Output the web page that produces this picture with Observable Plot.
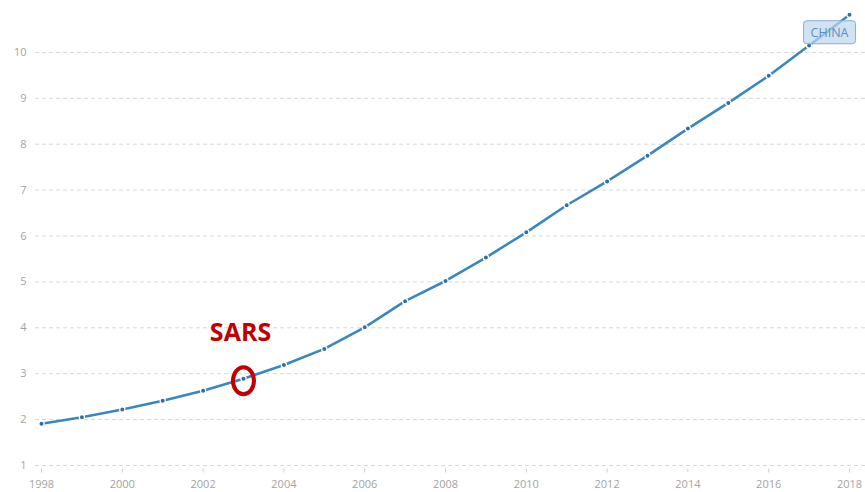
<!DOCTYPE html>
<html>
<head>
<meta charset="utf-8">
<script src="https://cdn.jsdelivr.net/npm/d3@7"></script>
<script src="https://cdn.jsdelivr.net/npm/@observablehq/plot@0.6"></script>
<style>
  html, body { margin: 0; padding: 0; background: #fff; }
  #chart svg { display: block; }
</style>
</head>
<body>
<div id="chart"></div>
<script>
const years = [1998,1999,2000,2001,2002,2003,2004,2005,2006,2007,2008,2009,2010,2011,2012,2013,2014,2015,2016,2017,2018];
const values = [1.91,2.05,2.22,2.41,2.63,2.89,3.19,3.54,4.01,4.58,5.02,5.53,6.08,6.67,7.19,7.75,8.34,8.90,9.49,10.15,10.82];
const seriesName = "CHINA";
const yTicks = [1,2,3,4,5,6,7,8,9,10];
const xTicks = [1998,2000,2002,2004,2006,2008,2010,2012,2014,2016,2018];
const eventYear = 2003;
const eventLabel = "SARS";

const data = years.map((y, i) => ({year: y, value: values[i]}));
const eventPoint = data.filter(d => d.year === eventYear);
const lastPoint = data.slice(-1);

const blue = "#3a87c0";
const gray = "#a3a3a3";

// Ellipse symbol for the SARS ring
const ellipse = {
  draw(ctx, size) {
    const rx = 10.5, ry = 13.5, k = 0.5523;
    ctx.moveTo(rx, 0);
    ctx.bezierCurveTo(rx, ry * k, rx * k, ry, 0, ry);
    ctx.bezierCurveTo(-rx * k, ry, -rx, ry * k, -rx, 0);
    ctx.bezierCurveTo(-rx, -ry * k, -rx * k, -ry, 0, -ry);
    ctx.bezierCurveTo(rx * k, -ry, rx, -ry * k, rx, 0);
    ctx.closePath();
  }
};
// Small vertical tick symbol below the axis baseline
const tickMark = {
  draw(ctx, size) {
    ctx.moveTo(0, 3);
    ctx.lineTo(0, 7);
  }
};

const chart = Plot.plot({
  width: 865,
  height: 492,
  marginTop: 6,
  marginBottom: 27,
  marginLeft: 41,
  marginRight: 16,
  style: {fontFamily: "'Open Sans', sans-serif", background: "#fff"},
  x: {domain: [1998, 2018], axis: null},
  y: {domain: [1, 11], axis: null},
  marks: [
    Plot.ruleY(yTicks, {y: d => d, stroke: "#d8d8d8", strokeDasharray: "4,3", strokeWidth: 1, insetLeft: -6, insetRight: -16}),
    Plot.text(yTicks, {x: () => 1998, y: d => d, text: d => String(d), textAnchor: "end", dx: -15, fill: gray, fontSize: 11}),
    Plot.dot(xTicks, {x: d => d, y: () => 1, symbol: tickMark, r: 4, stroke: "#cfcfcf", strokeWidth: 1, fill: "none"}),
    Plot.text(xTicks, {x: d => d, y: () => 1, text: d => String(d), dy: 19, fill: gray, fontSize: 11}),
    Plot.line(data, {x: "year", y: "value", stroke: blue, strokeWidth: 2.6, curve: "linear"}),
    Plot.dot(data, {x: "year", y: "value", r: 2.6, fill: "#2f6fa5", stroke: "#fff", strokeWidth: 1.2}),
    Plot.dot(eventPoint, {x: "year", y: "value", symbol: ellipse, r: 10, dy: 2, stroke: "#c00000", strokeWidth: 4, fill: "none"}),
    Plot.text(eventPoint, {x: "year", y: "value", text: () => eventLabel, dx: -3, dy: -46, fill: "#c00000", fontSize: 25, fontWeight: "bold", fontFamily: "'Open Sans', sans-serif"}),
    Plot.text(lastPoint, {x: "year", y: "value", text: () => seriesName, dx: -20, dy: 18, fill: "#5c8fc0", fontSize: 12.5, className: "serieslabel"})
  ]
});

document.getElementById("chart").appendChild(chart);

// Draw the rounded label box behind the series label
const t = chart.querySelector(".serieslabel text");
if (t) {
  const bb = t.getBBox();
  const rect = document.createElementNS("http://www.w3.org/2000/svg", "rect");
  rect.setAttribute("x", bb.x - 7);
  rect.setAttribute("y", bb.y - 3);
  rect.setAttribute("width", bb.width + 14);
  rect.setAttribute("height", bb.height + 6);
  rect.setAttribute("rx", 3);
  rect.setAttribute("fill", "rgba(190,215,238,0.7)");
  rect.setAttribute("stroke", "#86b0d6");
  rect.setAttribute("stroke-width", 1);
  const tr = t.getAttribute("transform");
  if (tr) rect.setAttribute("transform", tr);
  t.parentNode.insertBefore(rect, t);
}
</script>
</body>
</html>
